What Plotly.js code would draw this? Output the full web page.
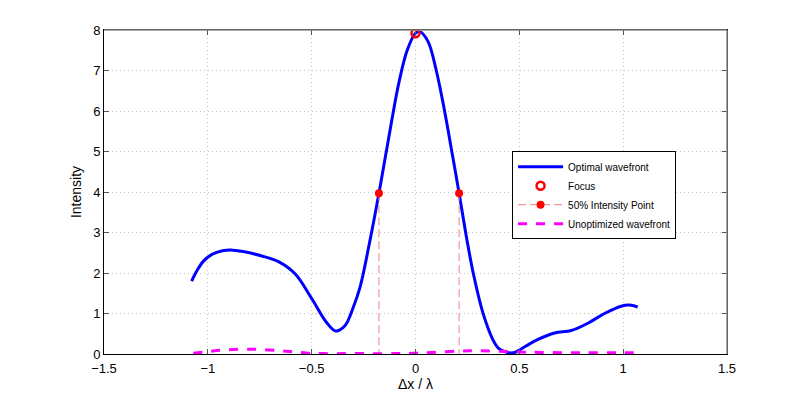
<!DOCTYPE html>
<html>
<head>
<meta charset="utf-8">
<script src="https://cdn.plot.ly/plotly-3.0.1.min.js"></script>
<style>
  html, body { margin:0; padding:0; background:#fff; }
  #chart { width:803px; height:398px; }
</style>
</head>
<body>
<div id="chart"></div>
<script>
// optimal wavefront
const optX = [-1.078,-1.05,-1.02,-0.98,-0.93,-0.89,-0.83,-0.74,-0.66,-0.58,-0.50,-0.43,-0.385,-0.34,-0.30,-0.267,-0.219,-0.176,-0.12,-0.08,-0.04,0.0,0.02,0.06,0.10,0.14,0.18,0.21,0.25,0.28,0.325,0.373,0.40,0.44,0.47,0.49,0.53,0.59,0.67,0.75,0.83,0.91,0.99,1.03,1.07];
const optY = [1.80,2.08,2.30,2.46,2.55,2.57,2.53,2.42,2.28,1.98,1.37,0.79,0.57,0.70,1.15,1.65,2.81,3.97,5.6,6.7,7.5,7.92,7.96,7.72,7.0,6.0,4.85,3.97,2.75,1.95,1.01,0.35,0.14,0.04,0.03,0.07,0.19,0.36,0.52,0.58,0.76,1.0,1.18,1.21,1.16];

// unoptimized wavefront
const unoX = [-1.07,-1.0,-0.92,-0.83,-0.74,-0.65,-0.58,-0.52,-0.45,-0.3,-0.1,0.0,0.08,0.21,0.3,0.4,0.5,0.6,0.8,1.0,1.07];
const unoY = [0.02,0.06,0.10,0.12,0.11,0.08,0.05,0.02,0.01,0.01,0.01,0.02,0.04,0.07,0.08,0.07,0.05,0.04,0.03,0.03,0.03];

// focus and half-intensity points
const focusX = [0];
const focusY = [7.92];
const halfX = [-0.176, 0.21];
const halfY = [3.97, 3.97];

const halfLineX = [halfX[0], halfX[0], null, halfX[1], halfX[1]];
const halfLineY = [halfY[0], 0, null, halfY[1], 0];

const font = 'Liberation Sans, Arial, sans-serif';

const traces = [
  {x: optX, y: optY, mode:'lines', name:'Optimal wavefront',
   line:{color:'#0000ff', width:3, shape:'spline', smoothing:1}},
  {x: focusX, y: focusY, mode:'markers', name:'Focus',
   marker:{symbol:'circle-open', color:'#ff0000', size:8, line:{width:2.5, color:'#ff0000'}}},
  {x: halfLineX, y: halfLineY, mode:'lines+markers', name:'50% Intensity Point',
   line:{color:'#f08080', width:1, dash:'8px,4px'},
   marker:{color:['#ff0000','rgba(0,0,0,0)',null,'#ff0000','rgba(0,0,0,0)'], size:8}},
  {x: unoX, y: unoY, mode:'lines', name:'Unoptimized wavefront',
   line:{color:'#ff00ff', width:3, dash:'dash', shape:'spline'}}
];

const axisBase = {
  showline:true, linecolor:'#000', linewidth:1, mirror:'ticks',
  ticks:'inside', ticklen:5, tickcolor:'#555',
  showgrid:true, gridcolor:'#c4c4c4', griddash:'1px,3px', gridwidth:1,
  zeroline:false, tickfont:{family:font, size:13, color:'#000'}
};

const layout = {
  width:803, height:398,
  margin:{l:104, r:76, t:30, b:44},
  paper_bgcolor:'#fff', plot_bgcolor:'#fff',
  font:{family:font, color:'#000'},
  showlegend:true,
  legend:{x:0.655, y:0.626, xanchor:'left', yanchor:'top',
    bgcolor:'#fff', bordercolor:'#000', borderwidth:1,
    font:{family:font, size:10, color:'#000'}, itemwidth:45, tracegroupgap:0},
  xaxis:{...axisBase, range:[-1.5,1.5], tickvals:[-1.5,-1,-0.5,0,0.5,1,1.5],
    ticktext:['\u22121.5','\u22121','\u22120.5','0','0.5','1','1.5'],
    ticklabelstandoff:2,
    title:{text:'\u0394x / \u03bb', font:{family:font, size:14}, standoff:4}},
  yaxis:{...axisBase, range:[0,8], dtick:1,
    title:{text:'Intensity', font:{family:font, size:14}, standoff:8}},
  shapes:[
    {type:'line', xref:'paper', yref:'paper', x0:0, x1:1, y0:1, y1:1, line:{color:'#888', width:1.5}, layer:'above'},
    {type:'line', xref:'paper', yref:'paper', x0:1, x1:1, y0:0, y1:1, line:{color:'#888', width:1.5}, layer:'above'}
  ]
};

Plotly.newPlot('chart', traces, layout, {displayModeBar:false, staticPlot:true});
</script>
</body>
</html>
